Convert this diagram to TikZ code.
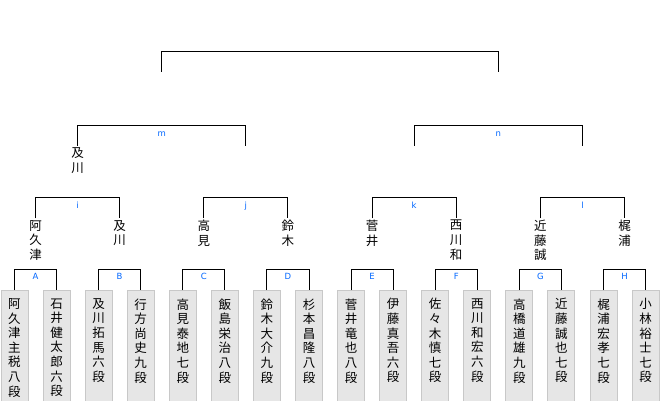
\documentclass[tikz,border=0pt]{standalone}
\usepackage{fontspec}
\newfontfamily\jpfont{Noto Sans CJK JP}
\newfontfamily\kumifont{DejaVu Sans}
\definecolor{boxfill}{RGB}{230,230,230}
\definecolor{boxline}{RGB}{200,200,200}
\definecolor{kumiblue}{RGB}{0,102,255}
\newcommand{\tate}[1]{\parbox[t]{14pt}{\centering #1}}

\begin{document}
\begin{tikzpicture}[x=1pt,y=-1pt,line width=1pt,
  kishi/.style={anchor=north,draw=boxline,fill=boxfill,minimum width=27pt,
    inner xsep=0pt,inner ysep=8pt,text depth=110pt,
    font=\jpfont\fontsize{12.5}{14.6}\selectfont},
  shousha/.style={anchor=north,inner xsep=0pt,inner ysep=1.5pt,
    font=\jpfont\fontsize{12.5}{14.6}\selectfont},
  kumi/.style={anchor=base,inner sep=0pt,text=kumiblue,
    font=\kumifont\fontsize{8.5}{8.5}\selectfont}]
  \useasboundingbox (0,0) rectangle (660,400);
  \clip (0,0) rectangle (660,400);

  \node[kishi] (a1) at (14.5,290) {\tate{阿\\久\\津\\主\\税\\八\\段}};
  \node[kishi] (a2) at (56.6,290) {\tate{石\\井\\健\\太\\郎\\六\\段}};
  \node[kishi] (b1) at (98.6,290) {\tate{及\\川\\拓\\馬\\六\\段}};
  \node[kishi] (b2) at (140.7,290) {\tate{行\\方\\尚\\史\\九\\段}};
  \node[kishi] (c1) at (182.8,290) {\tate{高\\見\\泰\\地\\七\\段}};
  \node[kishi] (c2) at (224.9,290) {\tate{飯\\島\\栄\\治\\八\\段}};
  \node[kishi] (d1) at (266.9,290) {\tate{鈴\\木\\大\\介\\九\\段}};
  \node[kishi] (d2) at (309.0,290) {\tate{杉\\本\\昌\\隆\\八\\段}};
  \node[kishi] (e1) at (351.1,290) {\tate{菅\\井\\竜\\也\\八\\段}};
  \node[kishi] (e2) at (393.1,290) {\tate{伊\\藤\\真\\吾\\六\\段}};
  \node[kishi] (f1) at (435.2,290) {\tate{佐\\々\\木\\慎\\七\\段}};
  \node[kishi] (f2) at (477.3,290) {\tate{西\\川\\和\\宏\\六\\段}};
  \node[kishi] (g1) at (519.3,290) {\tate{高\\橋\\道\\雄\\九\\段}};
  \node[kishi] (g2) at (561.4,290) {\tate{近\\藤\\誠\\也\\七\\段}};
  \node[kishi] (h1) at (603.5,290) {\tate{梶\\浦\\宏\\孝\\七\\段}};
  \node[kishi] (h2) at (645.6,290) {\tate{小\\林\\裕\\士\\七\\段}};

  \draw (a1.north) -- ++(0,-20.7) -| (a2.north);
  \draw (b1.north) -- ++(0,-20.7) -| (b2.north);
  \draw (c1.north) -- ++(0,-20.7) -| (c2.north);
  \draw (d1.north) -- ++(0,-20.7) -| (d2.north);
  \draw (e1.north) -- ++(0,-20.7) -| (e2.north);
  \draw (f1.north) -- ++(0,-20.7) -| (f2.north);
  \draw (g1.north) -- ++(0,-20.7) -| (g2.north);
  \draw (h1.north) -- ++(0,-20.7) -| (h2.north);
  \node[kumi] (la) at (35.5,279) {A};
  \node[kumi] (lb) at (119.6,279) {B};
  \node[kumi] (lc) at (203.8,279) {C};
  \node[kumi] (ld) at (287.9,279) {D};
  \node[kumi] (le) at (372.1,279) {E};
  \node[kumi] (lf) at (456.2,279) {F};
  \node[kumi] (lg) at (540.4,279) {G};
  \node[kumi] (lh) at (624.5,279) {H};

  \node[shousha] (wa) at (35.5,218.3) {\tate{阿\\久\\津}};
  \node[shousha] (wb) at (119.6,218.3) {\tate{及\\川}};
  \node[shousha] (wc) at (203.8,218.3) {\tate{高\\見}};
  \node[shousha] (wd) at (287.9,218.3) {\tate{鈴\\木}};
  \node[shousha] (we) at (372.1,218.3) {\tate{菅\\井}};
  \node[shousha] (wf) at (456.2,218.3) {\tate{西\\川\\和}};
  \node[shousha] (wg) at (540.4,218.3) {\tate{近\\藤\\誠}};
  \node[shousha] (wh) at (624.5,218.3) {\tate{梶\\浦}};

  \draw (wa.north) -- ++(0,-21) -| (wb.north);
  \draw (wc.north) -- ++(0,-21) -| (wd.north);
  \draw (we.north) -- ++(0,-21) -| (wf.north);
  \draw (wg.north) -- ++(0,-21) -| (wh.north);
  \node[kumi] (li) at (77.6,208.3) {i};
  \node[kumi] (lj) at (245.9,208.3) {j};
  \node[kumi] (lk) at (414.2,208.3) {k};
  \node[kumi] (ll) at (582.5,208.3) {l};

  \node[shousha] (wi) at (77.6,145.7) {\tate{及\\川}};
  \coordinate (wj) at (245.9,145.7);
  \coordinate (wk) at (414.2,145.7);
  \coordinate (wl) at (582.5,145.7);

  \draw (wi.north) -- ++(0,-20) -| (wj);
  \draw (wk) -- ++(0,-20) -| (wl);
  \node[kumi] (lm) at (161.7,136) {m};
  \node[kumi] (ln) at (498.3,136) {n};

  \coordinate (wm) at (161.7,71.7);
  \coordinate (wn) at (498.3,71.7);
  \draw (wm) -- ++(0,-20) -| (wn);
\end{tikzpicture}
\end{document}
